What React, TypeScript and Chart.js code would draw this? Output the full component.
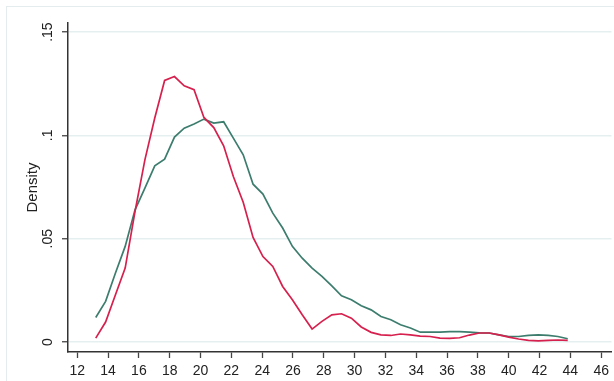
import React, { useEffect, useRef } from "react";
import { Chart, registerables } from "chart.js";

Chart.register(...registerables);

// ---- data ----
const xValues = [
  13.2, 13.84, 14.48, 15.11, 15.75, 16.39, 17.03, 17.67, 18.31, 18.94,
  19.58, 20.22, 20.86, 21.5, 22.13, 22.77, 23.41, 24.05, 24.69, 25.33,
  25.96, 26.6, 27.24, 27.88, 28.52, 29.15, 29.79, 30.43, 31.07, 31.71,
  32.35, 32.98, 33.62, 34.26, 34.9, 35.54, 36.17, 36.81, 37.45, 38.09,
  38.73, 39.37, 40.0, 40.64, 41.28, 41.92, 42.56, 43.19, 43.83,
];

const redDensity = [
  0.0019, 0.0097, 0.0229, 0.0358, 0.0632, 0.0882, 0.1084, 0.1266, 0.1285, 0.124,
  0.1221, 0.1087, 0.1038, 0.095, 0.0801, 0.0677, 0.0506, 0.0414, 0.0366, 0.0269,
  0.0205, 0.0132, 0.0063, 0.01, 0.0132, 0.0137, 0.0116, 0.0073, 0.0047, 0.0035,
  0.0032, 0.0039, 0.0035, 0.0029, 0.0027, 0.0019, 0.0018, 0.0021, 0.0034, 0.0044,
  0.0044, 0.0035, 0.0024, 0.0015, 0.0008, 0.0006, 0.0008, 0.001, 0.0008,
];

const greenDensity = [
  0.0119, 0.0197, 0.0334, 0.0463, 0.064, 0.0745, 0.0853, 0.0885, 0.0992, 0.1035,
  0.1055, 0.1079, 0.106, 0.1066, 0.0987, 0.0906, 0.0764, 0.0716, 0.0624, 0.0552,
  0.0463, 0.0406, 0.0358, 0.0318, 0.0272, 0.0224, 0.0205, 0.0176, 0.0156, 0.0124,
  0.0108, 0.0084, 0.0068, 0.0048, 0.0048, 0.0048, 0.0051, 0.0051, 0.0048, 0.0045,
  0.0044, 0.0035, 0.0027, 0.0027, 0.0032, 0.0035, 0.0032, 0.0027, 0.0016,
];

const xTickValues = [12, 14, 16, 18, 20, 22, 24, 26, 28, 30, 32, 34, 36, 38, 40, 42, 44, 46];
const yTickValues = [0, 0.05, 0.1, 0.15];
const yTickLabels = ["0", ".05", ".1", ".15"];
const yAxisTitle = "Density";

const FONT = "'Liberation Sans', Arial, Helvetica, sans-serif";

export default function App() {
  const canvasRef = useRef<HTMLCanvasElement | null>(null);

  useEffect(() => {
    const canvas = canvasRef.current;
    if (!canvas) return;
    const chart = new Chart(canvas, {
      type: "line",
      data: {
        datasets: [
          {
            label: "red",
            data: xValues.map((x, i) => ({ x, y: redDensity[i] })),
            borderColor: "#d6204e",
            borderWidth: 1.7,
            pointRadius: 0,
            tension: 0,
            fill: false,
          },
          {
            label: "green",
            data: xValues.map((x, i) => ({ x, y: greenDensity[i] })),
            borderColor: "#3d7d6e",
            borderWidth: 1.7,
            pointRadius: 0,
            tension: 0,
            fill: false,
          },
        ],
      },
      options: {
        animation: false,
        responsive: false,
        devicePixelRatio: 1,
        layout: { padding: { top: 23, right: 2, left: 0, bottom: 0 } },
        plugins: {
          legend: { display: false },
          tooltip: { enabled: false },
        },
        scales: {
          x: {
            type: "linear",
            min: 11.4,
            max: 46.67,
            afterBuildTicks: (scale: any) => {
              scale.ticks = xTickValues.map((v) => ({ value: v }));
            },
            afterFit: (scale: any) => {
              scale.height = 29;
            },
            ticks: {
              autoSkip: false,
              maxRotation: 0,
              minRotation: 0,
              padding: 5,
              color: "#222",
              font: { family: FONT, size: 14 },
              callback: (v: any) => String(v),
            },
            grid: {
              display: true,
              drawOnChartArea: false,
              drawTicks: true,
              tickLength: 6,
              tickColor: "#444",
              tickWidth: 1.3,
            },
            border: { display: true, color: "#333", width: 1.5 },
          },
          y: {
            type: "linear",
            min: -0.0048,
            max: 0.1544,
            afterBuildTicks: (scale: any) => {
              scale.ticks = yTickValues.map((v) => ({ value: v }));
            },
            afterFit: (scale: any) => {
              scale.width = 68;
            },
            ticks: {
              autoSkip: false,
              minRotation: 90,
              maxRotation: 90,
              crossAlign: "center",
              padding: 4,
              color: "#222",
              font: { family: FONT, size: 14 },
              callback: (_v: any, i: number) => yTickLabels[i],
            },
            grid: {
              display: true,
              drawOnChartArea: true,
              drawTicks: true,
              tickLength: 6,
              color: "#e6eff0",
              lineWidth: 1.5,
              tickColor: "#444",
              tickWidth: 1.3,
            },
            border: { display: true, color: "#333", width: 1.5 },
            title: {
              display: true,
              text: yAxisTitle,
              color: "#222",
              font: { family: FONT, size: 15 },
              padding: { top: 24, bottom: 0 },
            },
          },
        },
      },
    });
    return () => chart.destroy();
  }, []);

  return (
    <div
      style={{
        position: "absolute",
        left: 0,
        top: 0,
        width: 614,
        height: 381,
        overflow: "hidden",
        background: "#ffffff",
      }}
    >
      <div
        style={{
          position: "absolute",
          left: 6,
          top: 6,
          width: 700,
          height: 500,
          borderTop: "1px solid #e4ecee",
          borderLeft: "1px solid #e4ecee",
        }}
      />
      <canvas
        ref={canvasRef}
        width={614}
        height={381}
        style={{ position: "absolute", left: 0, top: 0, width: 614, height: 381 }}
      />
    </div>
  );
}
